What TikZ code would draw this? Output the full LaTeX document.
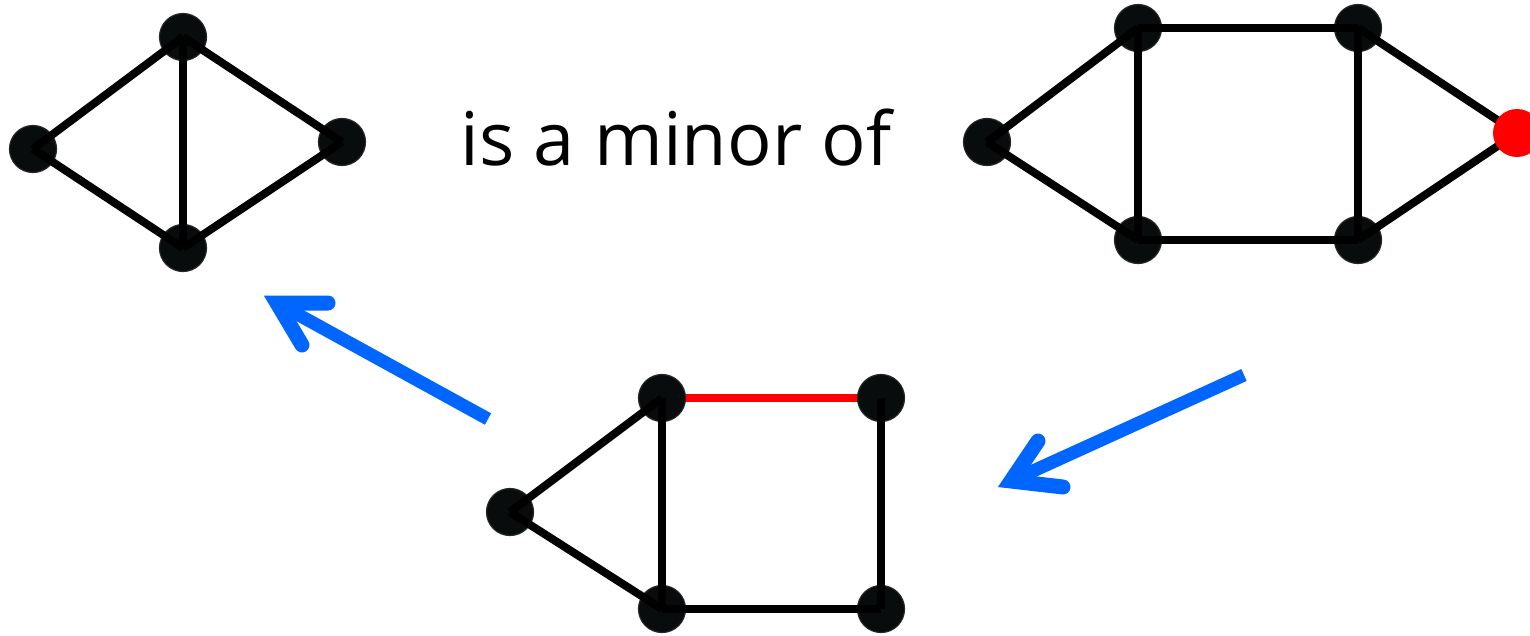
\documentclass[tikz,border=0pt]{standalone}
\usepackage{fontspec}
\setmainfont{Open Sans}
\definecolor{nodefill}{RGB}{8,12,12}
\definecolor{arrowblue}{RGB}{0,102,255}
\definecolor{edgered}{RGB}{255,0,0}
\begin{document}
\begin{tikzpicture}[x=1pt,y=-1pt,
  vtx/.style={circle, fill=nodefill, draw=black!85, line width=1.2pt, minimum size=47pt, inner sep=0pt},
  rvtx/.style={circle, fill=edgered, minimum size=48pt, inner sep=0pt},
  edge/.style={line width=8pt, draw=black},
  redge/.style={line width=8pt, draw=edgered},
  shaft/.style={line width=13pt, draw=arrowblue},
  head/.style={line width=15pt, draw=arrowblue, line cap=round, line join=miter}]
\useasboundingbox (0,0) rectangle (1530,635);
\clip (0,0) rectangle (1530,635);
% top-left graph
\node[vtx] (a1) at (183,37) {};
\node[vtx] (a2) at (33,149) {};
\node[vtx] (a3) at (342,142) {};
\node[vtx] (a4) at (183,248) {};
\draw[edge] (a1.center) -- (a2.center);
\draw[edge] (a1.center) -- (a3.center);
\draw[edge] (a1.center) -- (a4.center);
\draw[edge] (a2.center) -- (a4.center);
\draw[edge] (a3.center) -- (a4.center);
% text
\node[anchor=base, inner sep=0pt, font=\fontsize{74}{88}\selectfont] (txt) at (676,165) {is a minor of};
% right graph
\node[vtx] (b1) at (987,142) {};
\node[vtx] (b2) at (1138,28) {};
\node[vtx] (b3) at (1358,28) {};
\node[vtx] (b4) at (1138,240) {};
\node[vtx] (b5) at (1358,240) {};
\coordinate (b6pos) at (1517,133);
\draw[edge] (b1.center) -- (b2.center);
\draw[edge] (b1.center) -- (b4.center);
\draw[edge] (b2.center) -- (b3.center);
\draw[edge] (b2.center) -- (b4.center);
\draw[edge] (b3.center) -- (b5.center);
\draw[edge] (b4.center) -- (b5.center);
\draw[edge] (b3.center) -- (b6pos);
\draw[edge] (b5.center) -- (b6pos);
\node[rvtx] (b6) at (b6pos) {};
% bottom graph
\coordinate (c2pos) at (662,398);
\coordinate (c3pos) at (881,398);
\draw[redge] (c2pos) -- (c3pos);
\node[vtx] (c1) at (510,512) {};
\node[vtx] (c2) at (c2pos) {};
\node[vtx] (c3) at (c3pos) {};
\node[vtx] (c4) at (662,609) {};
\node[vtx] (c5) at (881,609) {};
\draw[edge] (c1.center) -- (c2.center);
\draw[edge] (c1.center) -- (c4.center);
\draw[edge] (c2.center) -- (c4.center);
\draw[edge] (c3.center) -- (c5.center);
\draw[edge] (c4.center) -- (c5.center);
% arrow 1 (towards top-left graph)
\coordinate (p1tail) at (488,419);
\coordinate (p1tip) at (277,303);
\coordinate (p1b1) at (328,303);
\coordinate (p1b2) at (302,345);
\draw[shaft] (p1tail) -- (p1tip);
\draw[head] (p1b1) -- (p1tip) -- (p1b2);
% arrow 2 (from right graph)
\coordinate (p2tail) at (1244,375);
\coordinate (p2tip) at (1011,481);
\coordinate (p2b1) at (1038,441);
\coordinate (p2b2) at (1063,487);
\draw[shaft] (p2tail) -- (p2tip);
\draw[head] (p2b1) -- (p2tip) -- (p2b2);
\end{tikzpicture}
\end{document}
